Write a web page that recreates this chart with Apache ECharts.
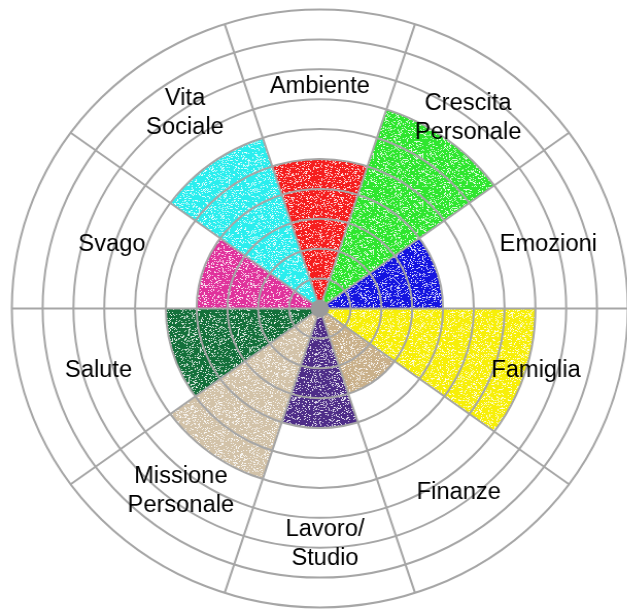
<!DOCTYPE html>
<html>
<head>
<meta charset="utf-8">
<script src="https://cdn.jsdelivr.net/npm/echarts@6/dist/echarts.min.js"></script>
<style>
  html, body { margin: 0; padding: 0; background: #fff; overflow: hidden; }
  /* the original drawing is a little wider than tall */
  #wheel { transform: scaleX(1.03); transform-origin: 0 0; }
</style>
</head>
<body>
<div id="wheel" style="width:609px;height:609px;"></div>
<script>
// areas of the wheel, clockwise starting from the top one
const categories = ['Ambiente', 'Crescita\nPersonale', 'Emozioni', 'Famiglia', 'Finanze',
    'Lavoro/\nStudio', 'Missione\nPersonale', 'Salute', 'Svago', 'Vita\nSociale'];
const scores = [5, 7, 4, 7, 3, 4, 6, 5, 4, 6];
const colors = ['#f51e1e', '#2ee62e', '#1414e0', '#f7ef08', '#c9b08a',
    '#4e2d88', '#d2c2a8', '#13703a', '#e0329c', '#2aeeee'];

// crayon-like fill: the colour with small white specks (fixed xorshift seed, only texture)
function crayon(color, seed) {
    const c = document.createElement('canvas');
    c.width = c.height = 48;
    const ctx = c.getContext('2d');
    ctx.fillStyle = color;
    ctx.fillRect(0, 0, 48, 48);
    let s = seed * 7919 + 12345;
    const next = () => {
        s ^= s << 13; s ^= s >>> 17; s ^= s << 5;
        return (s >>> 0) / 4294967296;
    };
    ctx.fillStyle = 'rgba(255,255,255,0.8)';
    for (let i = 0; i < 520; i++) {
        const x = Math.floor(next() * 48);
        const y = Math.floor(next() * 48);
        ctx.fillRect(x, y, 1, 1);
    }
    return { image: c, repeat: 'repeat' };
}

// hand placement of the labels in the drawing (pixel nudges)
const nudge = [[0, 1], [13, -10], [10, 5], [-2, -7], [4, 4],
    [5, 13], [-4, 2], [-3, -7], [10, 5], [0, -15]];

const chart = echarts.init(document.getElementById('wheel'));

const option = {
    backgroundColor: '#fff',
    polar: {
        center: [310.5, 308.5],
        radius: 299
    },
    angleAxis: {
        type: 'category',
        data: categories,
        startAngle: 108,
        z: 10,
        axisLine: { show: false },
        axisTick: { show: false },
        axisLabel: { show: false },
        splitLine: {
            show: true,
            lineStyle: { color: '#a6a6a6', width: 2 }
        }
    },
    radiusAxis: {
        type: 'value',
        min: 0,
        max: 10,
        interval: 1,
        z: 10,
        axisLine: { show: false },
        axisTick: { show: false },
        axisLabel: { show: false },
        splitLine: {
            show: true,
            lineStyle: { color: '#a6a6a6', width: 2 }
        }
    },
    series: [
        {
            type: 'bar',
            coordinateSystem: 'polar',
            barCategoryGap: '0%',
            z: 2,
            data: scores.map((v, i) => ({
                value: v,
                itemStyle: { color: crayon(colors[i], i + 1) }
            }))
        },
        {
            // labels of the areas, sitting in the outer rings
            type: 'scatter',
            coordinateSystem: 'polar',
            symbolSize: 0,
            z: 12,
            silent: true,
            itemStyle: { opacity: 1 },
            label: {
                show: true,
                position: 'inside',
                formatter: p => categories[p.dataIndex],
                color: '#000',
                fontFamily: 'Liberation Sans, Arial, sans-serif',
                fontSize: 23,
                lineHeight: 29,
                align: 'center'
            },
            data: categories.map((c, i) => ({
                value: [7.45, i],
                label: { offset: nudge[i] }
            }))
        },
        {
            // grey hub in the middle
            type: 'scatter',
            coordinateSystem: 'polar',
            symbol: 'circle',
            symbolSize: 18,
            z: 13,
            silent: true,
            itemStyle: { color: '#9a9a9a', opacity: 1 },
            data: [[0, 0]]
        }
    ]
};

chart.setOption(option);
</script>
</body>
</html>
